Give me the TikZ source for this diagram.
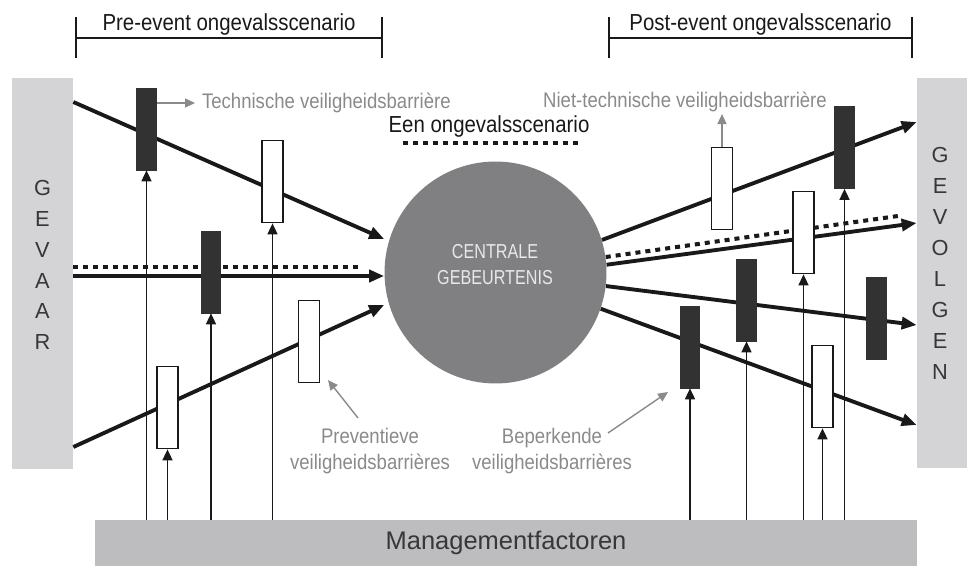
\documentclass[tikz,border=0pt]{standalone}
\usepackage{fontspec}
\setmainfont{Liberation Sans}
\newfontfamily\narrowsf{Liberation Sans}[FakeStretch=0.88]
\newfontfamily\condsf{Liberation Sans}[FakeStretch=0.8]
\usepackage{tikz}
\usetikzlibrary{arrows.meta,calc,positioning}
\definecolor{ink}{RGB}{25,25,25}
\definecolor{letterink}{RGB}{55,55,55}
\definecolor{sidegray}{RGB}{212,212,214}
\definecolor{mgmtgray}{RGB}{189,189,191}
\definecolor{eventgray}{RGB}{128,128,130}
\definecolor{eventink}{RGB}{232,232,232}
\definecolor{barblack}{RGB}{50,50,50}
\definecolor{notegray}{RGB}{138,138,138}

\begin{document}
\begin{tikzpicture}[x=0.02cm,y=-0.02cm,
  sidebox/.style={rectangle,fill=sidegray,inner sep=0pt},
  sideletters/.style={align=center,text=letterink,font=\fontsize{12.4}{17.6}\selectfont},
  mgmtbox/.style={rectangle,fill=mgmtgray,inner sep=0pt,minimum width=16.44cm,
    minimum height=0.92cm,text=letterink,font=\fontsize{14.5}{17}\selectfont},
  eventtext/.style={align=center,text=eventink,font=\condsf\fontsize{11.5}{14.7}\selectfont},
  title/.style={text=ink,inner sep=1pt,font=\narrowsf\fontsize{13.2}{15}\selectfont},
  note/.style={text=notegray,inner sep=1pt,font=\narrowsf\fontsize{12}{15.3}\selectfont},
  span/.style={draw=ink,line width=1.2pt,{Bar[width=8.2mm]}-{Bar[width=8.2mm]}},
  flow/.style={draw=ink,line width=2.2pt,-{Triangle[length=3mm,width=2.4mm]}},
  scen/.style={draw=ink,line width=2.3pt,dash pattern=on 0.1cm off 0.1cm},
  mgmtarrow/.style={draw=ink,line width=0.9pt,-{Triangle[length=2.2mm,width=2mm]}},
  notearrow/.style={draw=notegray,line width=0.8pt,-{Triangle[length=2mm,width=1.8mm]}},
  darkbar/.style={rectangle,fill=barblack,draw=barblack,line width=0.4pt,inner sep=0pt,
    minimum width=0.39cm,minimum height=1.64cm},
  lightbar/.style={rectangle,fill=white,draw=ink,line width=1pt,inner sep=0pt,
    minimum width=0.42cm,minimum height=1.64cm}]
  \useasboundingbox (0,0) rectangle (969,567);

  \node[sidebox,minimum width=1.22cm,minimum height=7.82cm] (hazard) at (42.5,273.5) {};
  \node[sidebox,minimum width=1cm,minimum height=7.8cm] (conseq) at (942,273) {};
  \node[sideletters] (hazardtxt) at (42.5,265) {G\\E\\V\\A\\A\\R};
  \node[sideletters] (conseqtxt) at (940,263.5) {G\\E\\V\\O\\L\\G\\E\\N};
  \node[mgmtbox] (mgmt) at (506,543) {Managementfactoren};
  \node[circle,fill=eventgray,minimum size=4.44cm,inner sep=0pt] (event) at (495.5,272.5) {};
  \node[eventtext] (eventlbl) at (495,264.5) {CENTRALE\\GEBEURTENIS};

  \coordinate (preL) at (75,38);
  \coordinate (preR) at (383,38);
  \coordinate (postL) at (608,38);
  \coordinate (postR) at (913,38);
  \draw[span] (preL) -- node[title,above=0pt] (pretitle) {Pre-event ongevalsscenario} (preR);
  \draw[span] (postL) -- node[title,above=0pt] (posttitle) {Post-event ongevalsscenario} (postR);

  \node[title] (scenlbl) at (489,127) {Een ongevalsscenario};
  \draw[scen] (403,143) -- (580,143);

  % pre-event
  \coordinate (scenL) at (362,267);
  \draw[scen] (hazard.east |- scenL) -- (scenL);
  \draw[flow] (hazard.east |- 0,102) -- (event.west |- 0,239);
  \draw[flow] (hazard.east |- 0,276) -- (event.west |- 0,276);
  \draw[flow] (hazard.east |- 0,447) -- (event.west |- 0,305);

  % post-event
  \coordinate (scenR) at (898,216);
  \draw[scen] (event.8.8) -- (scenR);
  \draw[flow] (event.17.5) -- (conseq.west |- 0,122);
  \draw[flow] (event.4.8) -- (conseq.west |- 0,223);
  \draw[flow] (event.353.7) -- (conseq.west |- 0,325);
  \draw[flow] (event.341.7) -- (conseq.west |- 0,425);

  \node[darkbar] (pb1) at (146.5,129) {};
  \node[lightbar] (pb2) at (272.5,181.5) {};
  \node[darkbar] (pb3) at (211,272) {};
  \node[lightbar] (pb4) at (167.5,407.5) {};
  \node[lightbar] (pb5) at (309,341.5) {};
  \node[lightbar] (cb1) at (722,188.5) {};
  \node[darkbar] (cb2) at (844.5,147.5) {};
  \node[lightbar] (cb3) at (803.5,232.5) {};
  \node[darkbar] (cb4) at (746.5,300) {};
  \node[darkbar] (cb5) at (876.5,318) {};
  \node[darkbar] (cb6) at (690,347) {};
  \node[lightbar] (cb7) at (822.5,386.5) {};

  \foreach \b in {pb1,pb2,pb3,pb4,cb2,cb3,cb4,cb6,cb7}
    \draw[mgmtarrow] (\b.south |- mgmt.north) -- (\b.south);

  \node[note,anchor=west] (techlbl) at (200,103) {Technische veiligheidsbarrière};
  \draw[notearrow] (pb1.east |- techlbl.west) -- ([xshift=-0.1cm]techlbl.west);
  \node[note] (nietlbl) at (685,102) {Niet-technische veiligheidsbarrière};
  \draw[notearrow] (cb1.north) -- (cb1.north |- nietlbl.south);

  \node[note,align=center] (prevlbl) at (370,451) {Preventieve\\veiligheidsbarrières};
  \node[note,align=center] (beplbl) at (552,451) {Beperkende\\veiligheidsbarrières};
  \coordinate (prevfoot) at (358,418);
  \coordinate (prevtip) at (328,380);
  \coordinate (bepfoot) at (608,433);
  \coordinate (beptip) at (668,392);
  \draw[notearrow] (prevfoot) -- (prevtip);
  \draw[notearrow] (bepfoot) -- (beptip);
\end{tikzpicture}
\end{document}
